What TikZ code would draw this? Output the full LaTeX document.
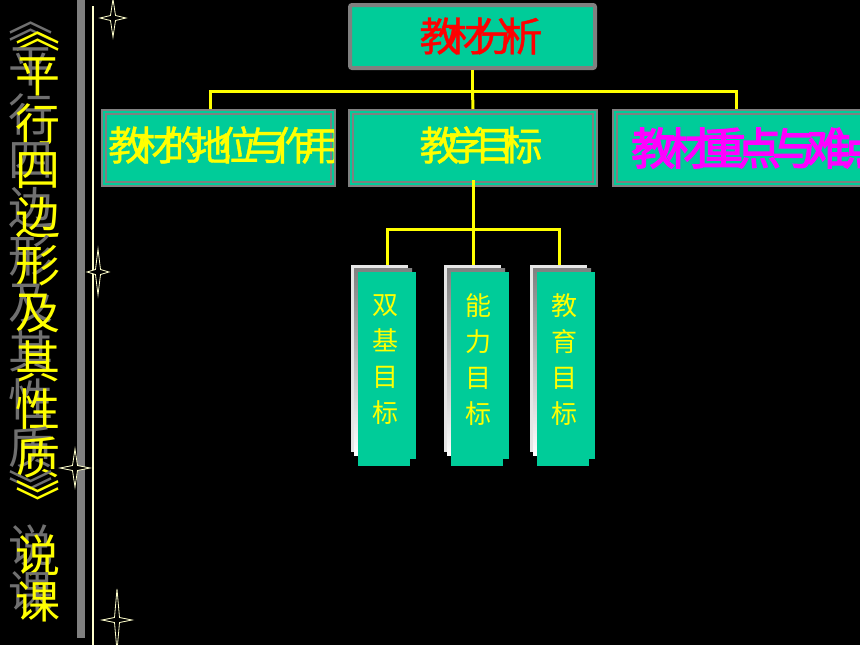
\documentclass[tikz,border=0pt]{standalone}
\usepackage{fontspec}
\usepackage{xcolor}
\usepackage{tikz}
\newfontfamily\cjk{Noto Sans CJK SC}
\newfontfamily\cjktight[LetterSpace=-31,FakeBold=1]{Noto Sans CJK SC}
\newfontfamily\cjkheavy[LetterSpace=-20,FakeBold=3]{Noto Sans CJK SC}
\definecolor{boxteal}{HTML}{00CC99}
\definecolor{boxgray}{HTML}{808080}
\definecolor{cream}{HTML}{FFFFCC}
\definecolor{shade}{HTML}{707070}
\definecolor{pale}{HTML}{E6E6E6}
\definecolor{lemon}{HTML}{FFFF00}
\definecolor{fuchsia}{HTML}{FF00FF}
\definecolor{scarlet}{HTML}{FF0000}

\begin{document}
\begin{tikzpicture}[x=1pt,y=-1pt,
  link/.style={draw=lemon, line width=3pt},
  tier/.style={draw=boxgray, double=boxteal, double distance=2pt, line width=2pt,
    fill=boxteal, minimum height=72pt, inner sep=0pt},
  tiertext/.style={inner sep=0pt, font=\cjktight\fontsize{40pt}{40pt}\selectfont},
  sparkle/.style={draw=cream, line width=0.8pt, fill=black}]
\path[clip] (0,0) rectangle (860,645);
\fill[black] (0,0) rectangle (860,645);

% title down the left side
\foreach \ch/\yy in {︽/42,平/77,行/124,四/171,边/218,形/266,及/314,其/361,性/409,质/457,︾/500,说/555,课/602}{
  \node[inner sep=0pt, text=shade, font=\cjk\fontsize{45pt}{45pt}\selectfont] at (31.5,\yy-10) {\ch};
  \node[inner sep=0pt, text=lemon, font=\cjk\fontsize{45pt}{45pt}\selectfont] at (38.5,\yy) {\ch};
}
\fill[boxgray] (77,0) rectangle (85,638);
\draw[cream, line width=2pt] (93,6) -- (93,645);

% stars
\foreach \sx/\sy/\sw/\sh in {113/18/13/19, 98/272/11/23, 75/468/15/19, 117/620/15/31}{
  \draw[sparkle] (\sx,\sy-\sh) -- ({\sx+2.5},{\sy-2.5}) -- (\sx+\sw,\sy) -- ({\sx+2.5},{\sy+2.5})
    -- (\sx,\sy+\sh) -- ({\sx-2.5},{\sy+2.5}) -- (\sx-\sw,\sy) -- ({\sx-2.5},{\sy-2.5}) -- cycle;
}

% top box and first level
\node[draw=boxgray, line width=4pt, rounded corners=2pt, fill=boxteal, minimum width=245pt,
  minimum height=63pt, inner sep=0pt] (fenxi) at (472.5,36.5) {};
\node[tiertext, text=scarlet] (fenxitext) at (481,36) {教材分析};
\draw[link] (fenxi.south) -- ++(0,21) coordinate (hub);
\coordinate (c1) at (210,109);
\coordinate (c3) at (736,109);
\draw[link] (c1) |- (hub) -| (c3);
\draw[link] (hub) -- (473,109) coordinate (c2);

\node[tier, minimum width=229pt] (diwei) at (218.5,148) {};
\node[tier, minimum width=244pt] (mubiao) at (473,148) {};
\node[tier, minimum width=248pt] (zhongdian) at (739,148) {};
\begin{scope}
  \clip (diwei.north west) rectangle (diwei.south east);
  \node[tiertext, anchor=west, text=lemon] (diweitext) at ([xshift=5pt,yshift=3pt]diwei.west) {教材的地位与作用};
\end{scope}
\node[tiertext, text=lemon] (mubiaotext) at (481,145) {教学目标};
\begin{scope}
  \clip (zhongdian.north west) rectangle (zhongdian.south east);
  \node[inner sep=0pt, anchor=west, text=fuchsia, font=\cjkheavy\fontsize{44pt}{44pt}\selectfont] (zhongdiantext)
    at ([xshift=17pt]zhongdian.west) {教材重点与难点};
\end{scope}

% second level
\coordinate (hub2) at (473,229);
\draw[link] ([yshift=5pt]mubiao.south) -- (hub2);
\coordinate (k1) at (387,265);
\coordinate (k2) at (473,265);
\coordinate (k3) at (559,265);
\draw[link] (k1) |- (hub2) -| (k3);
\draw[link] (hub2) -- (k2);

\foreach \bx/\nm/\txt in {358/shuangji/双\\基\\目\\标, 451/nengli/能\\力\\目\\标, 537/jiaoyu/教\\育\\目\\标}{
  \fill[pale] (\bx-7,265) rectangle (\bx+50,452);
  \fill[shade] (\bx-4,268) rectangle (\bx+54,455);
  \fill[boxteal] (\bx,272) rectangle (\bx+58,459);
  \fill[boxteal] (\bx,459) rectangle (\bx+52,466);
  \node[inner sep=0pt, align=center, text=lemon, font=\cjk\fontsize{26pt}{36pt}\selectfont] (\nm) at ({\bx+27},360) {\txt};
}
\end{tikzpicture}
\end{document}
